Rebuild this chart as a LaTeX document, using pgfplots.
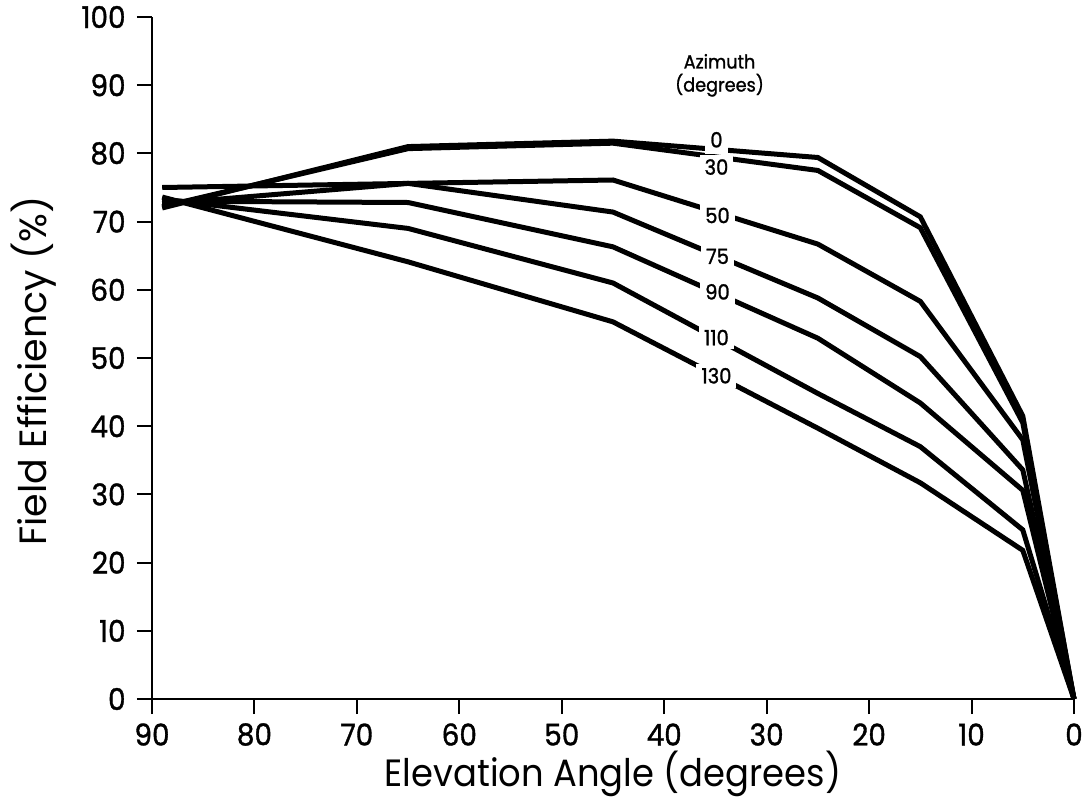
\documentclass[border=0pt]{standalone}
\usepackage{pgfplots}
\pgfplotsset{compat=1.18}
\usepackage{fontspec}
\setmainfont{Poppins}[FakeStretch=0.93]
\newfontfamily\heavyfont{Poppins}[FakeStretch=0.93, FakeBold=1.2]
\newfontfamily\widefont{Poppins}

% Field efficiency against elevation angle, one curve per azimuth
\pgfplotstableread{
elev  az0   az30  az50  az75  az90  az110 az130
89    72.0  72.2  75.0  72.6  73.0  73.3  73.6
65    81.0  80.7  75.6  75.6  72.8  69.0  64.1
45    81.8  81.5  76.1  71.4  66.3  61.0  55.3
25    79.4  77.5  66.7  58.8  52.9  44.8  39.7
15    70.7  69.1  58.3  50.2  43.4  37.0  31.7
5     41.5  40.5  38.0  33.6  30.6  24.8  21.8
0     0     0     0     0     0     0     0
}\efficiency

\begin{document}
\begin{tikzpicture}
\begin{axis}[
  at={(0,0)}, anchor=south west,
  scale only axis, width=461pt, height=341pt,
  xmin=0, xmax=90, ymin=0, ymax=100,
  x dir=reverse,
  axis x line=bottom, axis y line=left,
  axis line style={line width=1pt, -},
  xtick={0,10,...,90}, ytick={0,10,...,100},
  tick align=outside, major tick length=7.5pt,
  tick style={line width=1pt, black},
  /pgf/number format/assume math mode=true,
  tick label style={font=\heavyfont\fontsize{15}{15}\selectfont},
  xticklabel style={anchor=center, inner sep=0pt, yshift=-10.25pt},
  yticklabel style={anchor=east, inner sep=0pt, xshift=-5.5pt},
  every axis x label/.style={at={(axis description cs:0.5,-0.1105)}, anchor=center,
    font=\fontsize{19}{19}\selectfont},
  every axis y label/.style={at={(axis description cs:-0.1285,0.481)}, anchor=center, rotate=90,
    font=\widefont\fontsize{19}{19}\selectfont},
  xlabel={Elevation Angle (degrees)},
  ylabel={Field Efficiency (\%)},
  clip=false,
  cycle list={black\\},
  every axis plot post/.append style={line width=2.5pt},
]
\addplot table[x=elev, y=az0]   {\efficiency};
\addplot table[x=elev, y=az30]  {\efficiency};
\addplot table[x=elev, y=az50]  {\efficiency};
\addplot table[x=elev, y=az75]  {\efficiency};
\addplot table[x=elev, y=az90]  {\efficiency};
\addplot table[x=elev, y=az110] {\efficiency};
\addplot table[x=elev, y=az130] {\efficiency};

\begin{scope}[every node/.style={fill=white, inner xsep=2.5pt, inner ysep=2pt,
    font=\heavyfont\fontsize{10.5}{10.5}\selectfont}]
  \node[inner ysep=3.5pt] at (axis cs:34.9,82.0) {0};
  \node at (axis cs:34.9,78.0) {30};
  \node at (axis cs:34.8,70.9) {50};
  \node at (axis cs:34.8,64.9) {75};
  \node at (axis cs:34.8,59.7) {90};
  \node at (axis cs:34.9,53.0) {110};
  \node at (axis cs:34.9,47.4) {130};
\end{scope}
\node[font=\heavyfont\fontsize{9.5}{9.5}\selectfont] at (axis cs:34.6,93.5) {Azimuth};
\node[font=\heavyfont\fontsize{9.5}{9.5}\selectfont] at (axis cs:34.6,90.0) {(degrees)};
\end{axis}
\pgfresetboundingbox
\path (-76pt,-50pt) rectangle (466.5pt,349.5pt);
\end{tikzpicture}
\end{document}
